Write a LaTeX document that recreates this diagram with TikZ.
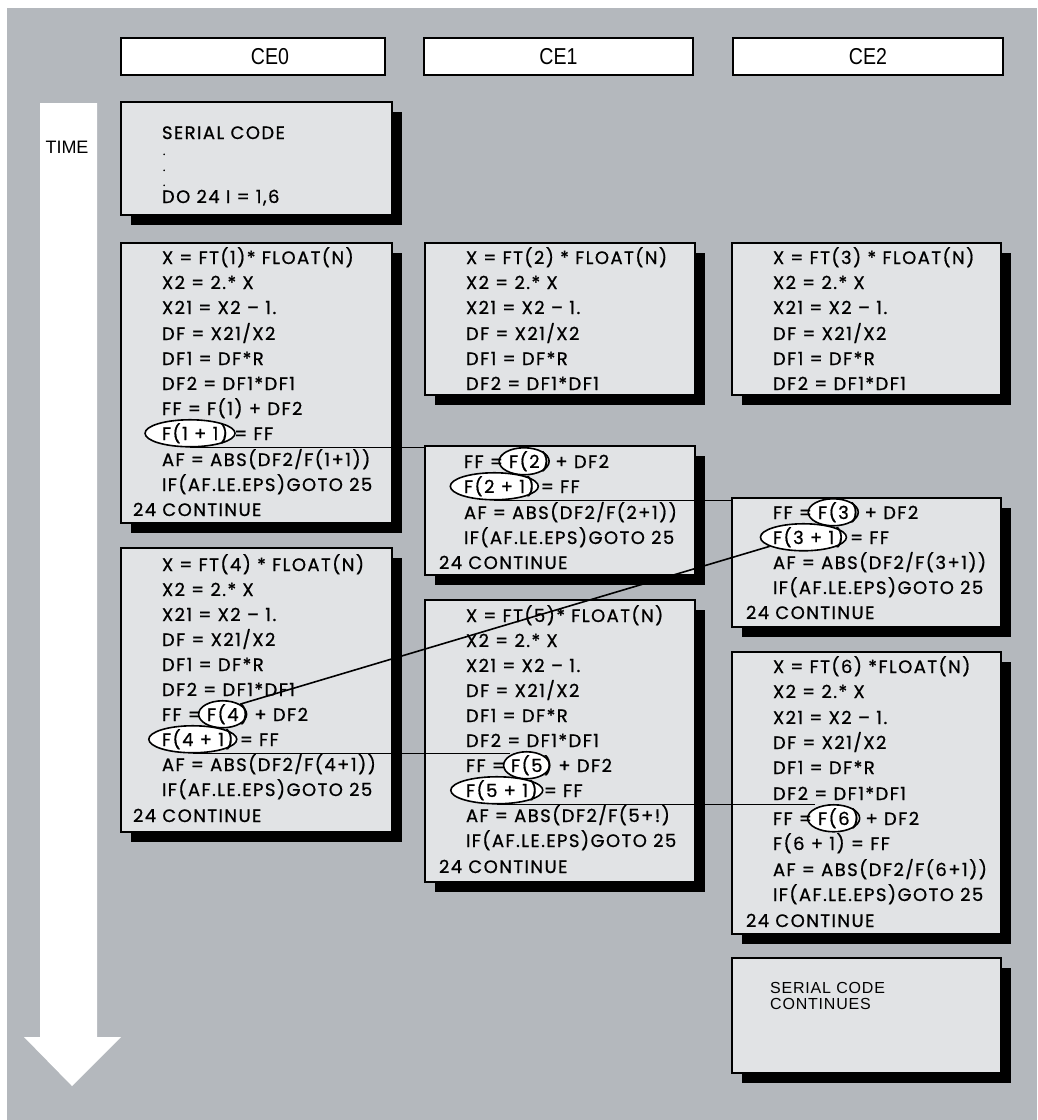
\documentclass[tikz,border=0pt]{standalone}
\usepackage{fontspec}
\usetikzlibrary{shapes.geometric,fit,shadows}
\newfontfamily\codefont{Poppins}[LetterSpace=8,FakeBold=0.8]
\newfontfamily\hfont{Liberation Sans}[LetterSpace=5]
\newfontfamily\tfont{Liberation Sans}
\newfontfamily\hnfont{Liberation Sans}[FakeStretch=0.85]
\definecolor{bggray}{RGB}{180,184,189}
\definecolor{boxfill}{RGB}{225,227,229}
\tikzset{
 cell/.style={draw=black, line width=1.3pt, fill=boxfill, inner sep=0pt,
   drop shadow={shadow xshift=10pt, shadow yshift=-10pt, fill=black, opacity=1}},
 hdr/.style={draw=black, line width=1.3pt, fill=white, inner sep=0pt},
 hdrtxt/.style={font=\hnfont\fontsize{23}{26}\selectfont, inner sep=0pt, anchor=center},
 code/.style={font=\codefont\fontsize{18}{21}\selectfont, anchor=base west, inner sep=0pt, outer sep=0pt},
 dotted line/.style={font=\codefont\fontsize{11}{12}\selectfont, anchor=base west, inner sep=0pt, outer sep=0pt},
 oval/.style={ellipse, draw=black, line width=1.6pt, fill=white, font=\codefont\fontsize{18}{21}\selectfont,
   inner xsep=-50pt, inner ysep=-20pt, minimum width=#1, minimum height=27pt, anchor=text, xshift=-5pt},
 sctext/.style={font=\hfont\fontsize{16}{16}\selectfont, anchor=north west, inner sep=0pt, align=left},
 timetext/.style={font=\tfont\fontsize{18}{20}\selectfont, anchor=base, inner sep=0pt},
 conn/.style={line width=1.6pt},
}
\begin{document}
\begin{tikzpicture}[x=1pt,y=-1pt]
\useasboundingbox (0,0) rectangle (1037,1120);
\fill[bggray] (7,8) rectangle (1037,1120);
% time arrow
\fill[white] (40,103) -- (97,103) -- (97,1037) -- (121,1037) -- (72,1086) -- (24,1037) -- (40,1037) -- cycle;
\node[timetext] (time) at (67,153) {TIME};
% headers
\node[hdr, fit={(121,38) (385,75)}] (h0) {};
\node[hdr, fit={(424,38) (693,75)}] (h1) {};
\node[hdr, fit={(733,38) (1003,75)}] (h2) {};
\node[hdrtxt] (h0t) at ([xshift=17pt]h0.center) {CE0};
\node[hdrtxt] (h1t) at (h1.center) {CE1};
\node[hdrtxt] (h2t) at (h2.center) {CE2};
% boxes
\node[cell, fit={(121,102) (392,215)}] (ser) {};
\node[cell, fit={(121,243) (392,523)}] (c0b1) {};
\node[cell, fit={(121,548) (392,832)}] (c0b2) {};
\node[cell, fit={(425,243) (695,395)}] (c1b1) {};
\node[cell, fit={(425,446) (695,575)}] (c1b2) {};
\node[cell, fit={(425,600) (695,882)}] (c1b3) {};
\node[cell, fit={(732,243) (1001,395)}] (c2b1) {};
\node[cell, fit={(732,498) (1001,627)}] (c2b2) {};
\node[cell, fit={(732,652) (1001,934)}] (c2b3) {};
\node[cell, fit={(732,958) (1001,1073)}] (c2b4) {};
% serial code
\node[code] (s1) at (162,139) {SERIAL CODE};
\node[dotted line] (s2) at (163,155) {.};
\node[dotted line] (s3) at (163,171) {.};
\node[dotted line] (s4) at (163,186) {.};
\node[code] (s5) at (162,203) {DO 24 I = 1,6};
% ovals
\node[oval=90pt] (e11) at (162,440) {\phantom{F(1 + 1)}};
\node[code] (p4) at (162,721) {\phantom{FF = }};
\node[oval=48pt] (e4) at (p4.base east) {\phantom{F(4)}};
\node[oval=88pt] (e41) at (162,746) {\phantom{F(4 + 1)}};
\node[code] (p2) at (464,468) {\phantom{FF = }};
\node[oval=50pt] (e2) at (p2.base east) {\phantom{F(2)}};
\node[oval=88pt] (e21) at (464,493) {\phantom{F(2 + 1)}};
\node[code] (p5) at (466,772) {\phantom{FF = }};
\node[oval=46pt] (e5) at (p5.base east) {\phantom{F(5)}};
\node[oval=92pt] (e51) at (466,797) {\phantom{F(5 + 1)}};
\node[code] (p3) at (773,519) {\phantom{FF = }};
\node[oval=50pt] (e3) at (p3.base east) {\phantom{F(3)}};
\node[oval=86pt] (e31) at (773,544) {\phantom{F(3 + 1)}};
\node[code] (p6) at (773,825) {\phantom{FF = }};
\node[oval=52pt] (e6) at (p6.base east) {\phantom{F(6)}};
% CE0 block 1
\node[code] (a1) at (162,264) {X = FT(1)* FLOAT(N)};
\node[code] (a2) at (162,289) {X2 = 2.* X};
\node[code] (a3) at (162,314) {X21 = X2 – 1.};
\node[code] (a4) at (162,340) {DF = X21/X2};
\node[code] (a5) at (162,365) {DF1 = DF*R};
\node[code] (a6) at (162,390) {DF2 = DF1*DF1};
\node[code] (a7) at (162,415) {FF = F(1) + DF2};
\node[code] (a8) at (162,440) {F(1 + 1) = FF};
\node[code] (a9) at (162,466) {AF = ABS(DF2/F(1+1))};
\node[code] (a10) at (162,491) {IF(AF.LE.EPS)GOTO 25};
\node[code] (a11) at (133,516) {24 CONTINUE};
% CE0 block 2
\node[code] (b1) at (162,571) {X = FT(4) * FLOAT(N)};
\node[code] (b2) at (162,596) {X2 = 2.* X};
\node[code] (b3) at (162,621) {X21 = X2 – 1.};
\node[code] (b4) at (162,646) {DF = X21/X2};
\node[code] (b5) at (162,671) {DF1 = DF*R};
\node[code] (b6) at (162,696) {DF2 = DF1*DF1};
\node[code] (b7) at (162,721) {FF = F(4) + DF2};
\node[code] (b8) at (162,746) {F(4 + 1) = FF};
\node[code] (b9) at (162,771) {AF = ABS(DF2/F(4+1))};
\node[code] (b10) at (162,796) {IF(AF.LE.EPS)GOTO 25};
\node[code] (b11) at (133,822) {24 CONTINUE};
% CE1 block 1
\node[code] (c1) at (466,264) {X = FT(2) * FLOAT(N)};
\node[code] (c2) at (466,289) {X2 = 2.* X};
\node[code] (c3) at (466,314) {X21 = X2 – 1.};
\node[code] (c4) at (466,340) {DF = X21/X2};
\node[code] (c5) at (466,365) {DF1 = DF*R};
\node[code] (c6) at (466,390) {DF2 = DF1*DF1};
% CE1 block 2
\node[code] (d1) at (464,468) {FF = F(2) + DF2};
\node[code] (d2) at (464,493) {F(2 + 1) = FF};
\node[code] (d3) at (464,519) {AF = ABS(DF2/F(2+1))};
\node[code] (d4) at (464,544) {IF(AF.LE.EPS)GOTO 25};
\node[code] (d5) at (439,569) {24 CONTINUE};
% CE1 block 3
\node[code] (f1) at (466,622) {X = FT(5)* FLOAT(N)};
\node[code] (f2) at (466,647) {X2 = 2.* X};
\node[code] (f3) at (466,672) {X21 = X2 – 1.};
\node[code] (f4) at (466,697) {DF = X21/X2};
\node[code] (f5) at (466,722) {DF1 = DF*R};
\node[code] (f6) at (466,747) {DF2 = DF1*DF1};
\node[code] (f7) at (466,772) {FF = F(5) + DF2};
\node[code] (f8) at (466,797) {F(5 + 1) = FF};
\node[code] (f9) at (466,822) {AF = ABS(DF2/F(5+!)};
\node[code] (f10) at (466,847) {IF(AF.LE.EPS)GOTO 25};
\node[code] (f11) at (439,873) {24 CONTINUE};
% CE2 block 1
\node[code] (g1) at (773,264) {X = FT(3) * FLOAT(N)};
\node[code] (g2) at (773,289) {X2 = 2.* X};
\node[code] (g3) at (773,314) {X21 = X2 – 1.};
\node[code] (g4) at (773,340) {DF = X21/X2};
\node[code] (g5) at (773,365) {DF1 = DF*R};
\node[code] (g6) at (773,390) {DF2 = DF1*DF1};
% CE2 block 2
\node[code] (k1) at (773,519) {FF = F(3) + DF2};
\node[code] (k2) at (773,544) {F(3 + 1) = FF};
\node[code] (k3) at (773,569) {AF = ABS(DF2/F(3+1))};
\node[code] (k4) at (773,594) {IF(AF.LE.EPS)GOTO 25};
\node[code] (k5) at (746,619) {24 CONTINUE};
% CE2 block 3
\node[code] (m1) at (773,673) {X = FT(6) *FLOAT(N)};
\node[code] (m2) at (773,698) {X2 = 2.* X};
\node[code] (m3) at (773,724) {X21 = X2 – 1.};
\node[code] (m4) at (773,749) {DF = X21/X2};
\node[code] (m5) at (773,774) {DF1 = DF*R};
\node[code] (m6) at (773,800) {DF2 = DF1*DF1};
\node[code] (m7) at (773,825) {FF = F(6) + DF2};
\node[code] (m8) at (773,850) {F(6 + 1) = FF};
\node[code] (m9) at (773,876) {AF = ABS(DF2/F(6+1))};
\node[code] (m10) at (773,901) {IF(AF.LE.EPS)GOTO 25};
\node[code] (m11) at (746,927) {24 CONTINUE};
% serial code continues
\node[sctext] (sc) at (770,982) {SERIAL CODE\\CONTINUES};
% connectors
\draw[conn] (e11.south) -- (e11.south -| c1b2.north west);
\draw[conn] (e21.south) -- (e21.south -| c2b2.north west);
\draw[conn] (e31.195) -- (e4.north east);
\draw[conn] (e41.south) -- (e41.south -| e5.north west);
\draw[conn] (e51.south) -- (e51.south -| e6.north west);
\end{tikzpicture}
\end{document}
